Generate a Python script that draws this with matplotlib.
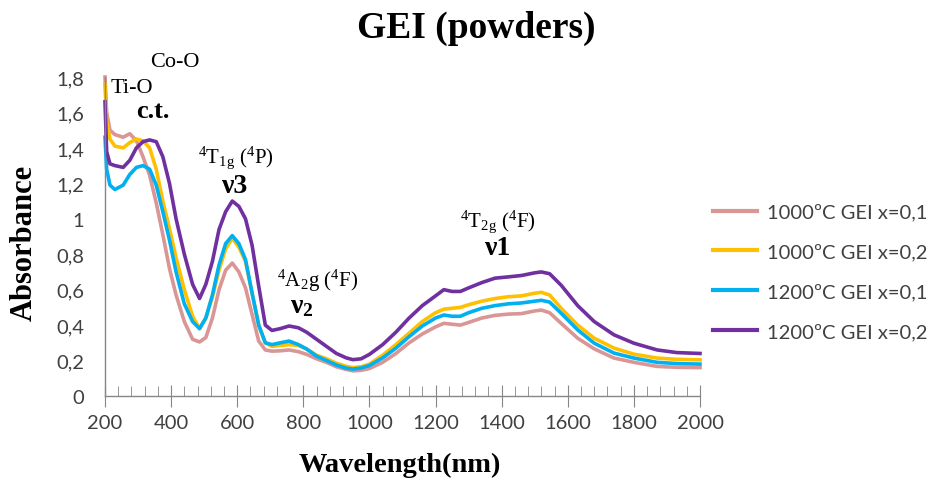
import matplotlib
matplotlib.use("Agg")
import matplotlib.pyplot as plt
from matplotlib.ticker import MultipleLocator

plt.rcParams['mathtext.fontset'] = 'custom'
plt.rcParams['mathtext.rm'] = 'Liberation Serif'
plt.rcParams['mathtext.it'] = 'Liberation Serif'
plt.rcParams['mathtext.bf'] = 'Liberation Serif:bold'

wavelength = [200, 205, 215, 230, 255, 275, 295, 315, 335, 355, 375, 395, 415, 440, 465, 486,
              505, 525, 545, 565, 585, 605, 625, 645, 665, 685, 705, 730, 757, 785, 810, 840,
              870, 900, 930, 950, 975, 1000, 1040, 1080, 1120, 1160, 1200, 1225, 1250, 1275,
              1300, 1340, 1380, 1420, 1460, 1500, 1520, 1545, 1580, 1630, 1680, 1740, 1800,
              1870, 1930, 2000]

s1000_x01 = [1.80, 1.60, 1.50, 1.475, 1.46, 1.48, 1.44, 1.35, 1.245, 1.09, 0.91, 0.72, 0.57, 0.42,
             0.32, 0.305, 0.33, 0.44, 0.60, 0.71, 0.75, 0.70, 0.61, 0.46, 0.31, 0.26, 0.253, 0.255,
             0.26, 0.25, 0.235, 0.21, 0.19, 0.165, 0.15, 0.142, 0.145, 0.155, 0.19, 0.24, 0.30,
             0.35, 0.39, 0.41, 0.405, 0.40, 0.415, 0.44, 0.455, 0.462, 0.465, 0.48, 0.485, 0.47,
             0.41, 0.326, 0.266, 0.214, 0.19, 0.167, 0.162, 0.16]

s1000_x02 = [1.76, 1.55, 1.45, 1.41, 1.40, 1.43, 1.45, 1.44, 1.40, 1.28, 1.10, 0.945, 0.78, 0.60,
             0.45, 0.38, 0.44, 0.56, 0.71, 0.83, 0.89, 0.84, 0.76, 0.58, 0.40, 0.30, 0.28, 0.285,
             0.29, 0.285, 0.265, 0.23, 0.21, 0.185, 0.167, 0.16, 0.165, 0.18, 0.23, 0.29, 0.355,
             0.42, 0.47, 0.49, 0.495, 0.50, 0.515, 0.535, 0.55, 0.56, 0.565, 0.58, 0.585, 0.57,
             0.495, 0.40, 0.326, 0.27, 0.236, 0.214, 0.207, 0.204]

s1200_x01 = [1.46, 1.28, 1.19, 1.165, 1.19, 1.25, 1.29, 1.30, 1.28, 1.19, 1.04, 0.88, 0.70, 0.52,
             0.42, 0.38, 0.44, 0.57, 0.74, 0.86, 0.905, 0.86, 0.77, 0.58, 0.40, 0.30, 0.29, 0.30,
             0.31, 0.29, 0.265, 0.225, 0.20, 0.175, 0.157, 0.152, 0.158, 0.172, 0.215, 0.27, 0.335,
             0.395, 0.44, 0.457, 0.45, 0.45, 0.47, 0.495, 0.51, 0.52, 0.525, 0.535, 0.54, 0.53,
             0.467, 0.373, 0.298, 0.242, 0.214, 0.19, 0.183, 0.18]

s1200_x02 = [1.66, 1.38, 1.31, 1.30, 1.29, 1.33, 1.40, 1.435, 1.445, 1.435, 1.35, 1.20, 1.00, 0.80,
             0.63, 0.55, 0.63, 0.76, 0.94, 1.04, 1.10, 1.07, 1.00, 0.85, 0.62, 0.40, 0.37, 0.38,
             0.395, 0.385, 0.36, 0.32, 0.28, 0.24, 0.215, 0.205, 0.21, 0.235, 0.29, 0.36, 0.44,
             0.51, 0.565, 0.60, 0.59, 0.59, 0.61, 0.64, 0.665, 0.672, 0.68, 0.695, 0.70, 0.69,
             0.625, 0.51, 0.42, 0.345, 0.298, 0.26, 0.245, 0.24]

series_labels = ["1000ºC GEI x=0,1", "1000ºC GEI x=0,2", "1200ºC GEI x=0,1", "1200ºC GEI x=0,2"]
series_colors = ["#D99694", "#FFC000", "#00B0F0", "#7030A0"]

x_ticks = [200, 400, 600, 800, 1000, 1200, 1400, 1600, 1800, 2000]
y_ticks = [0, 0.2, 0.4, 0.6, 0.8, 1.0, 1.2, 1.4, 1.6, 1.8]
y_tick_labels = ["0", "0,2", "0,4", "0,6", "0,8", "1", "1,2", "1,4", "1,6", "1,8"]

fig = plt.figure(figsize=(9.38, 4.81), dpi=100)
ax = fig.add_axes([105/938, 1 - 397/481, 595/938, 319/481])

for vals, lab, col in zip([s1000_x01, s1000_x02, s1200_x01, s1200_x02], series_labels, series_colors):
    ax.plot(wavelength, vals, color=col, lw=2.6, label=lab, solid_joinstyle='round', clip_on=False)

ax.set_xlim(200, 2000)
ax.set_ylim(0, 1.8)
ax.set_xticks(x_ticks)
ax.xaxis.set_minor_locator(MultipleLocator(40))
ax.set_yticks(y_ticks)
ax.set_yticklabels(y_tick_labels)

for lbl in ax.get_xticklabels() + ax.get_yticklabels():
    lbl.set_fontfamily('Lato')
    lbl.set_fontsize(14.5)
    lbl.set_color('#404040')

for sp in ['top', 'right']:
    ax.spines[sp].set_visible(False)
for sp in ['left', 'bottom']:
    ax.spines[sp].set_color('#868686')
    ax.spines[sp].set_linewidth(1.0)

ax.tick_params(axis='x', which='major', direction='inout', length=16, color='#868686', pad=5)
ax.tick_params(axis='x', which='minor', direction='in', length=7, color='#868686')
ax.tick_params(axis='y', which='major', length=0, pad=15)

serif = 'Liberation Serif'
fig.text(400/938, 1 - 465/481, "Wavelength(nm)", ha='center', va='center',
         fontfamily=serif, fontweight='bold', fontsize=20.5)
fig.text(24/938, 1 - 243/481, "Absorbance", ha='center', va='center', rotation=90,
         fontfamily=serif, fontweight='bold', fontsize=22)

fig.text(476/938, 1 - 28/481, "GEI (powders)", ha='center', va='center',
         fontfamily=serif, fontweight='bold', fontsize=27)

ax.text(412, 1.89, "Co-O", ha='center', va='center', fontfamily=serif, fontsize=16)
ax.text(282, 1.74, "Ti-O", ha='center', va='center', fontfamily=serif, fontsize=16)
ax.text(345, 1.61, "c.t.", ha='center', va='center', fontfamily=serif, fontsize=19, fontweight='bold')
ax.text(597, 1.35, r"$^4$T$_{1g}$ ($^4$P)", ha='center', va='center', fontfamily=serif, fontsize=15)
ax.text(590, 1.19, "ν3", ha='center', va='center', fontfamily=serif, fontsize=20, fontweight='bold')
ax.text(842, 0.655, r"$^4$A$_2$g ($^4$F)", ha='center', va='center', fontfamily=serif, fontsize=15)
ax.text(794, 0.51, r"ν$_\mathbf{2}$", ha='center', va='center', fontfamily=serif, fontsize=20, fontweight='bold')
ax.text(1388, 0.99, r"$^4$T$_{2g}$ ($^4$F)", ha='center', va='center', fontfamily=serif, fontsize=15)
ax.text(1385, 0.84, "ν1", ha='center', va='center', fontfamily=serif, fontsize=20, fontweight='bold')

leg = ax.legend(loc='upper left', bbox_to_anchor=(705/938, 1 - 196/481), bbox_transform=fig.transFigure,
                frameon=False, prop={'family': 'Lato', 'size': 14.5}, handlelength=2.2,
                labelspacing=1.1, handletextpad=0.5, borderaxespad=0)
for t in leg.get_texts():
    t.set_color('#404040')
for h in leg.get_lines():
    h.set_linewidth(3.0)

fig.savefig("out.png", dpi=100)
